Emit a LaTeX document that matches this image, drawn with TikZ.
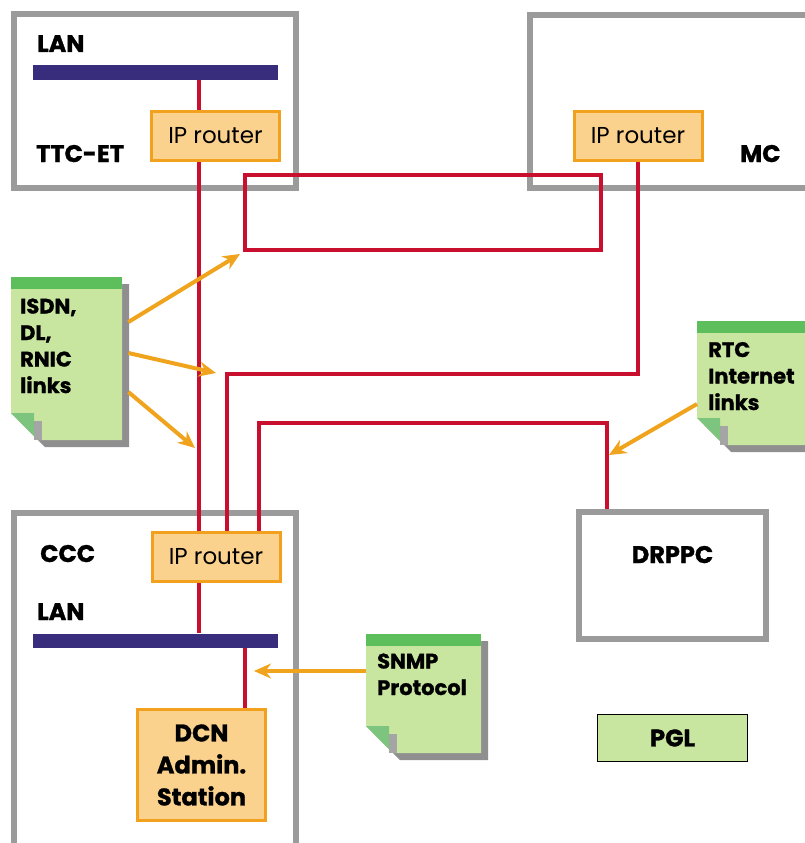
\documentclass[tikz,border=0pt]{standalone}
\usepackage{fontspec}
\setmainfont{Poppins}[BoldFeatures={FakeBold=1.2}]
\usetikzlibrary{arrows.meta,positioning,calc,backgrounds}
\definecolor{FrameGray}{HTML}{9B9B9B}
\definecolor{LinkRed}{HTML}{C8102E}
\definecolor{LanBlue}{HTML}{382C7C}
\definecolor{RouterFill}{HTML}{FBD18E}
\definecolor{RouterEdge}{HTML}{F2A11E}
\definecolor{ArrowOrange}{HTML}{F0A31C}
\definecolor{NoteGreen}{HTML}{C9E6A1}
\definecolor{NoteBar}{HTML}{5DBE5C}
\definecolor{NoteFold}{HTML}{7DC47E}
\definecolor{NoteShadow}{HTML}{8F8F8F}

% folded note sheet: name, x1, y1, x2, y2
\newcommand{\notesheet}[5]{%
  \fill[NoteShadow] (#2+7,#3+7) -- (#4+7,#3+7) -- (#4+7,#5+7) -- (#2+34,#5+7) -- (#2+7,#5-20) -- cycle;
  \fill[NoteGreen] (#2,#3) -- (#4,#3) -- (#4,#5) -- (#2+27,#5) -- (#2,#5-27) -- cycle;
  \fill[NoteBar] (#2,#3) rectangle (#4,#3+12);
  \fill[NoteShadow!80] (#2+23,#5-19) rectangle (#2+31,#5);
  \fill[NoteFold] (#2,#5-27) -- (#2+23,#5-27) -- (#2+23,#5-4) -- cycle;
  \node[inner sep=0,minimum width={#4-#2},minimum height={#5-#3},anchor=north west] (#1) at (#2,#3) {};
}

\begin{document}
\begin{tikzpicture}[x=1pt,y=-1pt,
  frame/.style={draw=FrameGray,line width=6},
  framebox/.style={frame,inner sep=0},
  redlink/.style={draw=LinkRed,line width=4.5},
  lanbar/.style={fill=LanBlue,inner sep=0,minimum width=245,minimum height=14},
  router/.style={draw=RouterEdge,fill=RouterFill,line width=3,inner sep=0,
    minimum width=128,minimum height=49,font=\fontsize{23}{27}\selectfont},
  station/.style={router,minimum height=111,align=center,
    font=\bfseries\fontsize{24}{32}\selectfont},
  pglbox/.style={draw=black,fill=NoteGreen,line width=1.5,inner sep=0,
    minimum width=150,minimum height=47,font=\bfseries\fontsize{24}{28}\selectfont},
  tag/.style={anchor=base west,inner sep=0,font=\bfseries\fontsize{24}{28}\selectfont},
  notetext/.style={anchor=base west,align=left,inner sep=0,
    font=\bfseries\fontsize{21}{26.5}\selectfont},
  linkarrow/.style={draw=ArrowOrange,line width=4,-{Stealth[length=17,width=15]}}]
  \useasboundingbox (0,0) rectangle (804,843);

  % notes
  \notesheet{isdn}{11}{277}{122}{440}
  \notesheet{rtc}{697}{321}{812}{445}
  \notesheet{snmp}{366}{634}{481}{753}
  \node[notetext] (isdntxt) at (20,393) {ISDN,\\DL,\\RNIC\\links};
  \node[notetext] (rtctxt) at (708,410) {RTC\\Internet\\links};
  \node[notetext] (snmptxt) at (377,695) {SNMP\\Protocol};

  % sites
  \node[lanbar] (ttclan) at (155.5,72.5) {};
  \node[router] (ttcr) at (215.5,136) {IP router};
  \node[router] (mcr) at (638,136) {IP router};
  \node[router] (cccr) at (216,557) {IP router};
  \node[lanbar] (ccclan) at (155.5,640.5) {};
  \node[station] (dcn) at (201.5,765) {DCN\\Admin.\\Station};
  \node[framebox,minimum width=187,minimum height=127] (drppc) at (672.5,575.5) {};
  \node[pglbox] (pgl) at (672.5,738) {PGL};

  \node[tag] (ttclantxt) at (37,52) {LAN};
  \node[tag] (ttctxt) at (36,162) {TTC-ET};
  \node[tag] (mctxt) at (740,162) {MC};
  \node[tag] (ccctxt) at (40,562) {CCC};
  \node[tag] (ccclantxt) at (37,620) {LAN};
  \node[tag,anchor=base] (drppctxt) at (672.5,563) {DRPPC};

  \begin{scope}[on background layer]
    \draw[frame] (14,14) rectangle (296,188);
    \draw[frame] (812,15) -- (530,15) -- (530,188) -- (812,188);
    \draw[frame] (14,850) -- (14,513) -- (296,513) -- (296,850);
    % links
    \draw[redlink] (ttclan.south -| 199,0) -- (ccclan.north -| 199,0);
    \draw[redlink] (245,175) rectangle (601,250);
    \draw[redlink] (mcr.south) |- (227,374) -- (cccr.north -| 227,0);
    \draw[redlink] (drppc.north -| 607,0) |- (259,423) -- (cccr.north -| 259,0);
    \draw[redlink] (ccclan.south -| 245,0) -- (dcn.north -| 245,0);
  \end{scope}

  % arrows
  \coordinate (loopend) at (240,254);
  \coordinate (mcend) at (216,373);
  \coordinate (ttcend) at (195,448);
  \coordinate (drppcend) at (609,455);
  \coordinate (dcnend) at (254,671);
  \draw[linkarrow] ([shift={(6,45)}]isdn.north east) -- (loopend);
  \draw[linkarrow] ([shift={(6,76)}]isdn.north east) -- (mcend);
  \draw[linkarrow] ([shift={(6,115)}]isdn.north east) -- (ttcend);
  \draw[linkarrow] ([shift={(0,83)}]rtc.north west) -- (drppcend);
  \draw[linkarrow] ([shift={(0,37)}]snmp.north west) -- (dcnend);
\end{tikzpicture}
\end{document}
